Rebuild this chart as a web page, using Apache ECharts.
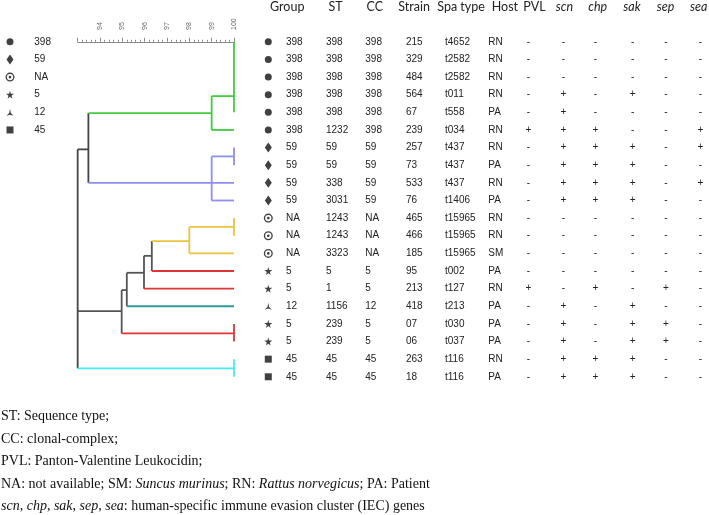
<!DOCTYPE html>
<html><head><meta charset="utf-8">
<script src="https://cdn.jsdelivr.net/npm/echarts@6/dist/echarts.min.js"></script>
<style>html,body{margin:0;padding:0;background:#fff}#c{width:709px;height:515px}</style>
</head><body><div id="c"></div>
<script>
// ---------------- data ----------------
const groups = ['398','398','398','398','398','398','59','59','59','59','NA','NA','NA','5','5','12','5','5','45','45'];
const st     = ['398','398','398','398','398','1232','59','59','338','3031','1243','1243','3323','5','1','1156','239','239','45','45'];
const cc     = ['398','398','398','398','398','398','59','59','59','59','NA','NA','NA','5','5','12','5','5','45','45'];
const strain = ['215','329','484','564','67','239','257','73','533','76','465','466','185','95','213','418','07','06','263','18'];
const spa    = ['t4652','t2582','t2582','t011','t558','t034','t437','t437','t437','t1406','t15965','t15965','t15965','t002','t127','t213','t030','t037','t116','t116'];
const host   = ['RN','RN','RN','RN','PA','RN','RN','PA','RN','PA','RN','RN','SM','PA','RN','PA','PA','PA','RN','PA'];
const pvl    = ['-','-','-','-','-','+','-','-','-','-','-','-','-','-','+','-','-','-','-','-'];
const scn    = ['-','-','-','+','+','+','+','+','+','+','-','-','-','-','-','+','+','+','+','+'];
const chp    = ['-','-','-','-','-','+','+','+','+','+','-','-','-','-','+','-','-','-','+','+'];
const sak    = ['-','-','-','+','-','-','+','+','+','+','-','-','-','-','-','+','+','+','+','+'];
const sep    = ['-','-','-','-','-','-','-','-','-','-','-','-','-','-','+','-','+','+','-','-'];
const sea    = ['-','-','-','-','-','+','+','-','+','-','-','-','-','-','-','-','-','-','-','-'];
const headers = ['Group','ST','CC','Strain','Spa type','Host','PVL','scn','chp','sak','sep','sea'];
const legendGroups = ['398','59','NA','5','12','45'];
const simTicks = [94,95,96,97,98,99,100];

// dendrogram vertical joins: [similarity, rowFrom, rowTo, cluster]
const dendroV = [
  [100, 0, 4, 'green'], [99, 3.08, 5, 'green'],
  [100, 6, 7, 'purple'], [99, 6.5, 9, 'purple'],
  [93.48, 4.04, 8, 'black'],
  [100, 10, 11, 'yellow'], [98, 10.5, 12, 'yellow'],
  [96.32, 11.3, 13, 'grey'], [95.97, 12.14, 14, 'grey'],
  [95.2, 13.1, 15, 'grey'], [94.97, 14.08, 16.54, 'grey'],
  [100, 16, 17, 'red'],
  [93, 6.1, 18.52, 'black'],
  [100, 18, 19, 'cyan']
];
// dendrogram horizontal branches: [row, simFrom, simTo, cluster]
const dendroH = [
  [3.08, 99, 100, 'green'], [5, 99, 100, 'green'], [4.04, 93.48, 99, 'green'],
  [6.5, 99, 100, 'purple'], [8, 93.48, 100, 'purple'], [9, 99, 100, 'purple'],
  [6.1, 93, 93.48, 'black'],
  [10.5, 98, 100, 'yellow'], [12, 98, 100, 'yellow'], [11.3, 96.32, 98, 'yellow'],
  [13, 96.32, 100, 'red'], [12.14, 95.97, 96.32, 'grey'],
  [14, 95.97, 100, 'red'], [13.1, 95.2, 95.97, 'grey'],
  [15, 95.2, 100, 'teal'], [14.08, 94.97, 95.2, 'grey'],
  [16.54, 94.97, 100, 'red'], [15.27, 93, 94.97, 'grey'],
  [18.52, 93, 100, 'cyan']
];

const footnotes = [
  'ST: Sequence type;',
  'CC: clonal-complex;',
  'PVL: Panton-Valentine Leukocidin;',
  'NA: not available; SM: {i|Suncus murinus}; RN: {i|Rattus norvegicus}; PA: Patient',
  '{i|scn}, {i|chp}, {i|sak}, {i|sep}, {i|sea}: human-specific immune evasion cluster (IEC) genes'
];

// ---------------- styles / layout ----------------
const clusterColor = {green:'#3fcc3f', purple:'#8e8ef0', yellow:'#ecc43e', red:'#e23434', teal:'#2f9a9a', cyan:'#40eef6', black:'#444', grey:'#555'};
const symbolOf = {
  '398': {symbol:'circle', size:7},
  '59': {symbol:'diamond', size:[7,10]},
  'NA': {symbol:'path://M0,10 A10,10 0 1,1 20,10 A10,10 0 1,1 0,10 Z M3,10 A7,7 0 1,0 17,10 A7,7 0 1,0 3,10 Z M7,10 A3,3 0 1,1 13,10 A3,3 0 1,1 7,10 Z', size:9},
  '5': {symbol:'path://M50,0 L61,35 L98,35 L68,57 L79,91 L50,70 L21,91 L32,57 L2,35 L39,35 Z', size:8},
  '12': {symbol:'path://M5,0 L6.2,6 L10,10 L5,8.3 L0,10 L3.8,6 Z', size:7},
  '45': {symbol:'rect', size:7}
};
const colX = {marker:268.3, group:286, st:326, cc:365.3, strain:406, spa:445, host:488.3, pvl:528.5, scn:563.5, chp:595.5, sak:632.7, sep:666, sea:700.5};
const headX = [270, 328.5, 366.5, 398.3, 437.3, 491.7, 523.3, 555.7, 588.3, 623.3, 656.7, 690];
const legX = {marker:10, text:34.3};
const bodyFont = '10px "Liberation Sans", Arial, sans-serif';
const headFont = '12.5px Lato, sans-serif';
const headFontI = 'italic 12.5px Lato, sans-serif';
const txtColor = '#222';
const noteFont = '14px "Liberation Serif", "Times New Roman", serif';

function textCol(xPos, arr, align, font, rowOffset) {
  return {
    type:'custom', xAxisIndex:1, yAxisIndex:1, silent:true, clip:false,
    data: arr.map((t,i)=>[Array.isArray(xPos)?xPos[i]:xPos, rowOffset !== undefined ? rowOffset : i]),
    renderItem: (params, api) => {
      const p = api.coord([api.value(0), api.value(1)]);
      const f = typeof font === 'function' ? font(params.dataIndex) : font;
      return {type:'text', x:p[0], y:p[1], style:{text: arr[params.dataIndex], font: f, fill: txtColor, align: align, verticalAlign:'middle'}};
    }
  };
}
function markerSeries(xPos, arr) {
  return {
    type:'scatter', xAxisIndex:1, yAxisIndex:1, silent:true,
    itemStyle:{color:'#111'},
    data: arr.map((g,i)=>({value:[xPos,i], symbol:symbolOf[g].symbol, symbolSize:symbolOf[g].size}))
  };
}

const series = [
  {
    type:'custom', xAxisIndex:0, yAxisIndex:0, silent:true, clip:false,
    data: dendroV.map(d=>[d[0], d[1], d[2]]),
    renderItem: (params, api) => {
      const a = api.coord([api.value(0), api.value(1)]);
      const b = api.coord([api.value(0), api.value(2)]);
      return {type:'line', shape:{x1:a[0], y1:a[1], x2:b[0], y2:b[1]}, style:{stroke: clusterColor[dendroV[params.dataIndex][3]], lineWidth:1.8}};
    }
  },
  {
    type:'custom', xAxisIndex:0, yAxisIndex:0, silent:true, clip:false,
    data: dendroH.map(d=>[d[0], d[1], d[2]]),
    renderItem: (params, api) => {
      const a = api.coord([api.value(1), api.value(0)]);
      const b = api.coord([api.value(2), api.value(0)]);
      return {type:'line', shape:{x1:a[0], y1:a[1], x2:b[0], y2:b[1]}, style:{stroke: clusterColor[dendroH[params.dataIndex][3]], lineWidth:1.8}};
    }
  },
  markerSeries(colX.marker, groups),
  textCol(colX.group, groups, 'left', bodyFont),
  textCol(colX.st, st, 'left', bodyFont),
  textCol(colX.cc, cc, 'left', bodyFont),
  textCol(colX.strain, strain, 'left', bodyFont),
  textCol(colX.spa, spa, 'left', bodyFont),
  textCol(colX.host, host, 'left', bodyFont),
  textCol(colX.pvl, pvl, 'center', bodyFont),
  textCol(colX.scn, scn, 'center', bodyFont),
  textCol(colX.chp, chp, 'center', bodyFont),
  textCol(colX.sak, sak, 'center', bodyFont),
  textCol(colX.sep, sep, 'center', bodyFont),
  textCol(colX.sea, sea, 'center', bodyFont),
  textCol(headX, headers, 'left', i => i >= 7 ? headFontI : headFont, -2),
  markerSeries(legX.marker, legendGroups),
  textCol(legX.text, legendGroups, 'left', bodyFont)
];

const chart = echarts.init(document.getElementById('c'), null, {renderer:'canvas'});
chart.setOption({
  animation:false,
  backgroundColor:'#fff',
  grid:[
    {left:77.67, top:33, width:156.33, height:352.6},
    {left:0, top:33, width:709, height:352.6}
  ],
  xAxis:[
    {type:'value', gridIndex:0, position:'top', min:93, max:100, interval:1,
     axisLine:{show:true, lineStyle:{color:'#8a8a8a', width:1}},
     axisTick:{show:true, length:4, lineStyle:{color:'#8a8a8a'}},
     minorTick:{show:true, splitNumber:5, length:2, lineStyle:{color:'#8a8a8a'}},
     splitLine:{show:false},
     axisLabel:{rotate:90, fontSize:7, color:'#666', margin:3, fontFamily:'"Liberation Sans", Arial',
       formatter: v => simTicks.indexOf(v) >= 0 ? String(v) : ''}},
    {type:'value', gridIndex:1, min:0, max:709, show:false}
  ],
  yAxis:[
    {type:'value', gridIndex:0, min:-0.5, max:19.5, inverse:true, show:false},
    {type:'value', gridIndex:1, min:-0.5, max:19.5, inverse:true, show:false}
  ],
  series: series,
  graphic: footnotes.map((t,i)=>({
    type:'text', x:1, y:416.7 + 22.5*i, silent:true,
    style:{text:t, font:noteFont, fill:'#111', verticalAlign:'middle',
      rich:{i:{fontStyle:'italic', fontSize:14, fontFamily:'"Liberation Serif", "Times New Roman", serif', fill:'#111'}}}
  }))
});
</script>
</body></html>
